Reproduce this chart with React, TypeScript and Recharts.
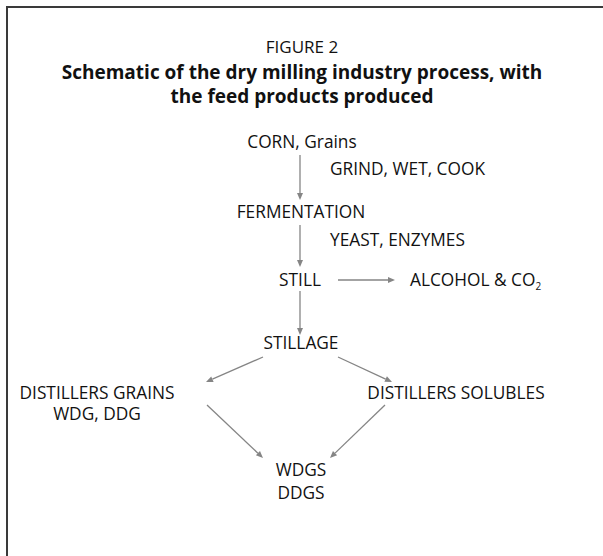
import React from "react";
import { ScatterChart, Scatter, XAxis, YAxis, ReferenceLine } from "recharts";

const W = 603;
const H = 556;
const FONT = "'Open Sans', 'Noto Sans', sans-serif";

// title lines
const titleLines = [
  "FIGURE 2",
  "Schematic of the dry milling industry process, with",
  "the feed products produced",
];
const titleY = [53, 79, 103];

// process steps (centred on x)
const stepLabels = [
  "CORN, Grains",
  "FERMENTATION",
  "STILL",
  "STILLAGE",
  "DISTILLERS GRAINS",
  "WDG, DDG",
  "DISTILLERS SOLUBLES",
  "WDGS",
  "DDGS",
];
const stepX = [302, 301, 300, 301, 97, 97, 456, 301, 301];
const stepY = [148, 218, 286, 349, 399, 420, 399, 476, 499];

// side notes (left aligned)
const noteLabels = ["GRIND, WET, COOK", "YEAST, ENZYMES", "ALCOHOL & CO"];
const noteX = [330, 330, 410];
const noteY = [175, 246, 286];

// arrows: from -> to
const arrowFrom = [
  [300, 155],
  [300, 225],
  [338, 280],
  [300, 291],
  [263, 357],
  [338, 357],
  [207, 405],
  [385, 405],
];
const arrowTo = [
  [300, 200],
  [300, 267],
  [395, 280],
  [300, 335],
  [206, 382],
  [392, 382],
  [263, 458],
  [330, 458],
];

const titleData = titleLines.map((label, i) => ({ x: 302, y: titleY[i], label, i }));
const stepData = stepLabels.map((label, i) => ({ x: stepX[i], y: stepY[i], label }));
const noteData = noteLabels.map((label, i) => ({ x: noteX[i], y: noteY[i], label }));

const TitleShape = (props: any) => {
  const { cx, cy, payload } = props;
  const bold = payload.i > 0;
  return (
    <text
      x={cx}
      y={cy}
      textAnchor="middle"
      fontFamily={FONT}
      fontSize={bold ? 19 : 17}
      fontWeight={bold ? 700 : 400}
      fill="#111"
    >
      {payload.label}
    </text>
  );
};

const StepShape = (props: any) => {
  const { cx, cy, payload } = props;
  return (
    <text x={cx} y={cy} textAnchor="middle" fontFamily={FONT} fontSize={17.3} fill="#111">
      {payload.label}
    </text>
  );
};

const NoteShape = (props: any) => {
  const { cx, cy, payload } = props;
  const co2 = payload.label.endsWith("CO");
  return (
    <text x={cx} y={cy} textAnchor="start" fontFamily={FONT} fontSize={17.3} fill="#111">
      {payload.label}
      {co2 && (
        <tspan fontSize={10} dy={4}>
          2
        </tspan>
      )}
    </text>
  );
};

const ArrowShape = (props: any) => {
  const { x1, y1, x2, y2 } = props;
  const dx = x2 - x1;
  const dy = y2 - y1;
  const len = Math.sqrt(dx * dx + dy * dy) || 1;
  const ux = dx / len;
  const uy = dy / len;
  const hl = 7;
  const hw = 3;
  const bx = x2 - ux * hl;
  const by = y2 - uy * hl;
  const pts = `${x2},${y2} ${bx - uy * hw},${by + ux * hw} ${bx + uy * hw},${by - ux * hw}`;
  return (
    <g>
      <line x1={x1} y1={y1} x2={bx} y2={by} stroke="#858585" strokeWidth={1.3} />
      <polygon points={pts} fill="#858585" />
    </g>
  );
};

export default function App() {
  return (
    <div style={{ position: "absolute", left: 0, top: 0, width: W, height: H, background: "#fff" }}>
      <div
        style={{
          position: "absolute",
          left: 6,
          top: 6,
          width: W,
          height: H,
          borderTop: "2px solid #3a3a3a",
          borderLeft: "2px solid #3a3a3a",
        }}
      />
      <ScatterChart width={W} height={H} margin={{ top: 0, right: 0, bottom: 0, left: 0 }}>
        <XAxis type="number" dataKey="x" domain={[0, W]} hide />
        <YAxis type="number" dataKey="y" domain={[0, H]} reversed hide />
        {arrowFrom.map((f, i) => (
          <ReferenceLine
            key={`arrow-${i}`}
            segment={[
              { x: f[0], y: f[1] },
              { x: arrowTo[i][0], y: arrowTo[i][1] },
            ]}
            shape={ArrowShape}
          />
        ))}
        <Scatter data={titleData} shape={TitleShape} isAnimationActive={false} />
        <Scatter data={stepData} shape={StepShape} isAnimationActive={false} />
        <Scatter data={noteData} shape={NoteShape} isAnimationActive={false} />
      </ScatterChart>
    </div>
  );
}
